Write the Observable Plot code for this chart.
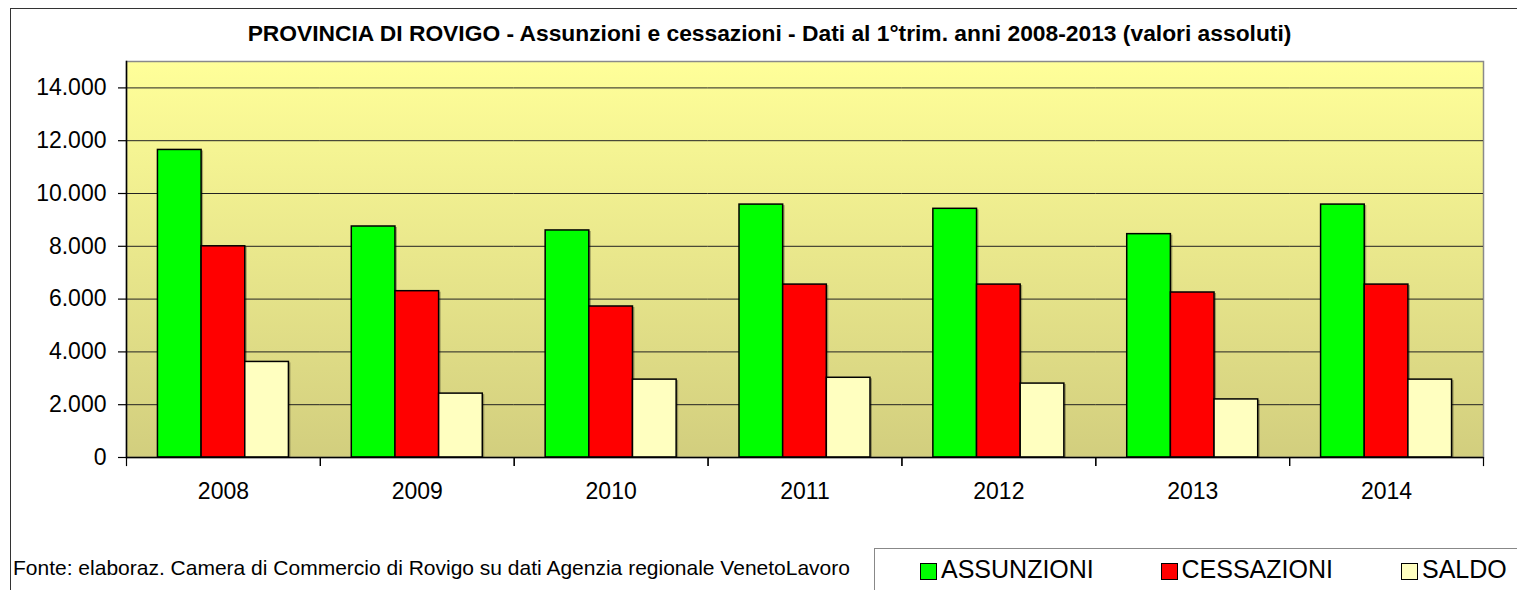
<!DOCTYPE html>
<html>
<head>
<meta charset="utf-8">
<script src="https://cdn.jsdelivr.net/npm/d3@7"></script>
<script src="https://cdn.jsdelivr.net/npm/@observablehq/plot@0.6"></script>
<style>
  html, body { margin: 0; padding: 0; background: #fff; }
  #wrap { position: relative; width: 1517px; height: 590px; overflow: hidden;
          font-family: "Liberation Sans", Arial, sans-serif; color: #000; }
  #outer { position: absolute; left: 10px; top: 8px; width: 1700px; height: 800px;
           border-left: 1.5px solid #333; border-top: 1.5px solid #333; box-sizing: border-box; }
  #title { position: absolute; left: 10px; width: 1519px; top: 22px; text-align: center;
           font-weight: bold; font-size: 22.8px; line-height: 1; white-space: nowrap; }
  #chart { position: absolute; left: 0; top: 0; }
  #source { position: absolute; left: 13px; top: 557px; font-size: 21px; line-height: 1; white-space: nowrap; }
  #legendbox { position: absolute; left: 874px; top: 548px; width: 800px; height: 100px;
               border-left: 1.5px solid #888; border-top: 1.5px solid #888; box-sizing: border-box; }
  .sw { position: absolute; width: 17px; height: 17px; box-sizing: border-box; border: 1.3px solid #000; }
  .lt { position: absolute; font-size: 25px; line-height: 1; white-space: nowrap; }
</style>
</head>
<body>
<div id="wrap">
  <div id="outer"></div>
  <div id="chart"></div>
  <div id="title"></div>
  <div id="source"></div>
  <div id="legendbox"></div>
</div>
<script>
const years = ["2008", "2009", "2010", "2011", "2012", "2013", "2014"];
const series = ["ASSUNZIONI", "CESSAZIONI", "SALDO"];
const assunzioni = [11650, 8750, 8600, 9580, 9420, 8460, 9580];
const cessazioni = [8000, 6300, 5720, 6550, 6550, 6250, 6550];
const saldo = [3620, 2420, 2950, 3020, 2800, 2200, 2950];
const colors = ["#00FF00", "#FF0000", "#FFFFC0"];
const yTicks = [0, 2000, 4000, 6000, 8000, 10000, 12000, 14000];
const yMax = 15000;
const titleText = "PROVINCIA DI ROVIGO - Assunzioni e cessazioni - Dati al 1°trim. anni 2008-2013 (valori assoluti)";
const sourceText = "Fonte: elaboraz. Camera di Commercio di Rovigo su dati Agenzia regionale VenetoLavoro";

const values = [assunzioni, cessazioni, saldo];
const data = years.flatMap((year, i) => series.map((s, k) => ({year, series: s, value: values[k][i]})));
const fmt = d3.formatLocale({decimal: ",", thousands: ".", grouping: [3], currency: ["", "€"]}).format(",");

const W = 1517, H = 510, ML = 126, MR = 34, MT = 61, MB = 53;
const plotH = H - MT - MB;

const chart = Plot.plot({
  width: W, height: H,
  marginLeft: ML, marginRight: MR, marginTop: MT, marginBottom: MB,
  style: {fontFamily: "'Liberation Sans', Arial, sans-serif", fontSize: "23px", color: "#000", background: "transparent", overflow: "visible"},
  fx: {domain: years, paddingInner: 0, paddingOuter: 0, round: false, label: null},
  x: {domain: series, paddingInner: 0, paddingOuter: 0.72, round: false, axis: null},
  y: {domain: [0, yMax], axis: null},
  color: {domain: series, range: colors},
  marks: [
    Plot.frame({facet: "super", fill: "url(#bgGrad)", stroke: "#8a8a8a", strokeWidth: 1.5}),
    Plot.gridY(yTicks, {stroke: "#222", strokeOpacity: 1, strokeWidth: 1}),
    Plot.barY(data, {fx: "year", x: "series", y: "value", fill: "#000", fillOpacity: 0.3, dx: 2, dy: 1}),
    Plot.barY(data, {fx: "year", x: "series", y: "value", fill: "series", stroke: "#000", strokeWidth: 1.5}),
    Plot.ruleY([0], {stroke: "#000", strokeWidth: 1.5}),
    Plot.frame({facet: "super", anchor: "left", stroke: "#000", strokeWidth: 1.5}),
    Plot.axisY(yTicks, {anchor: "left", tickSize: 8, tickPadding: 12, tickFormat: fmt, label: null, strokeWidth: 1.2}),
    Plot.axisFx({anchor: "bottom", tickSize: 0, tickPadding: 25, label: null}),
    Plot.frame({anchor: "left", insetTop: plotH, insetBottom: -8, stroke: "#000", strokeWidth: 1.2}),
    Plot.frame({anchor: "right", insetTop: plotH, insetBottom: -8, stroke: "#000", strokeWidth: 1.2})
  ]
});

const defs = d3.select(chart).insert("defs", ":first-child");
const grad = defs.append("linearGradient").attr("id", "bgGrad")
  .attr("x1", 0).attr("y1", 0).attr("x2", 0).attr("y2", 1);
grad.append("stop").attr("offset", "0%").attr("stop-color", "#FFFF99");
grad.append("stop").attr("offset", "100%").attr("stop-color", "#D2CE7E");

document.getElementById("chart").appendChild(chart);
document.getElementById("title").textContent = titleText;
document.getElementById("source").textContent = sourceText;

const wrap = document.getElementById("wrap");
series.forEach((s, k) => {
  const sw = document.createElement("div");
  sw.className = "sw";
  sw.style.left = (920 + k * 240.5) + "px";
  sw.style.top = "563px";
  sw.style.background = colors[k];
  wrap.appendChild(sw);
  const t = document.createElement("div");
  t.className = "lt";
  t.style.left = (941 + k * 240.5) + "px";
  t.style.top = "557px";
  t.textContent = s;
  wrap.appendChild(t);
});
</script>
</body>
</html>
